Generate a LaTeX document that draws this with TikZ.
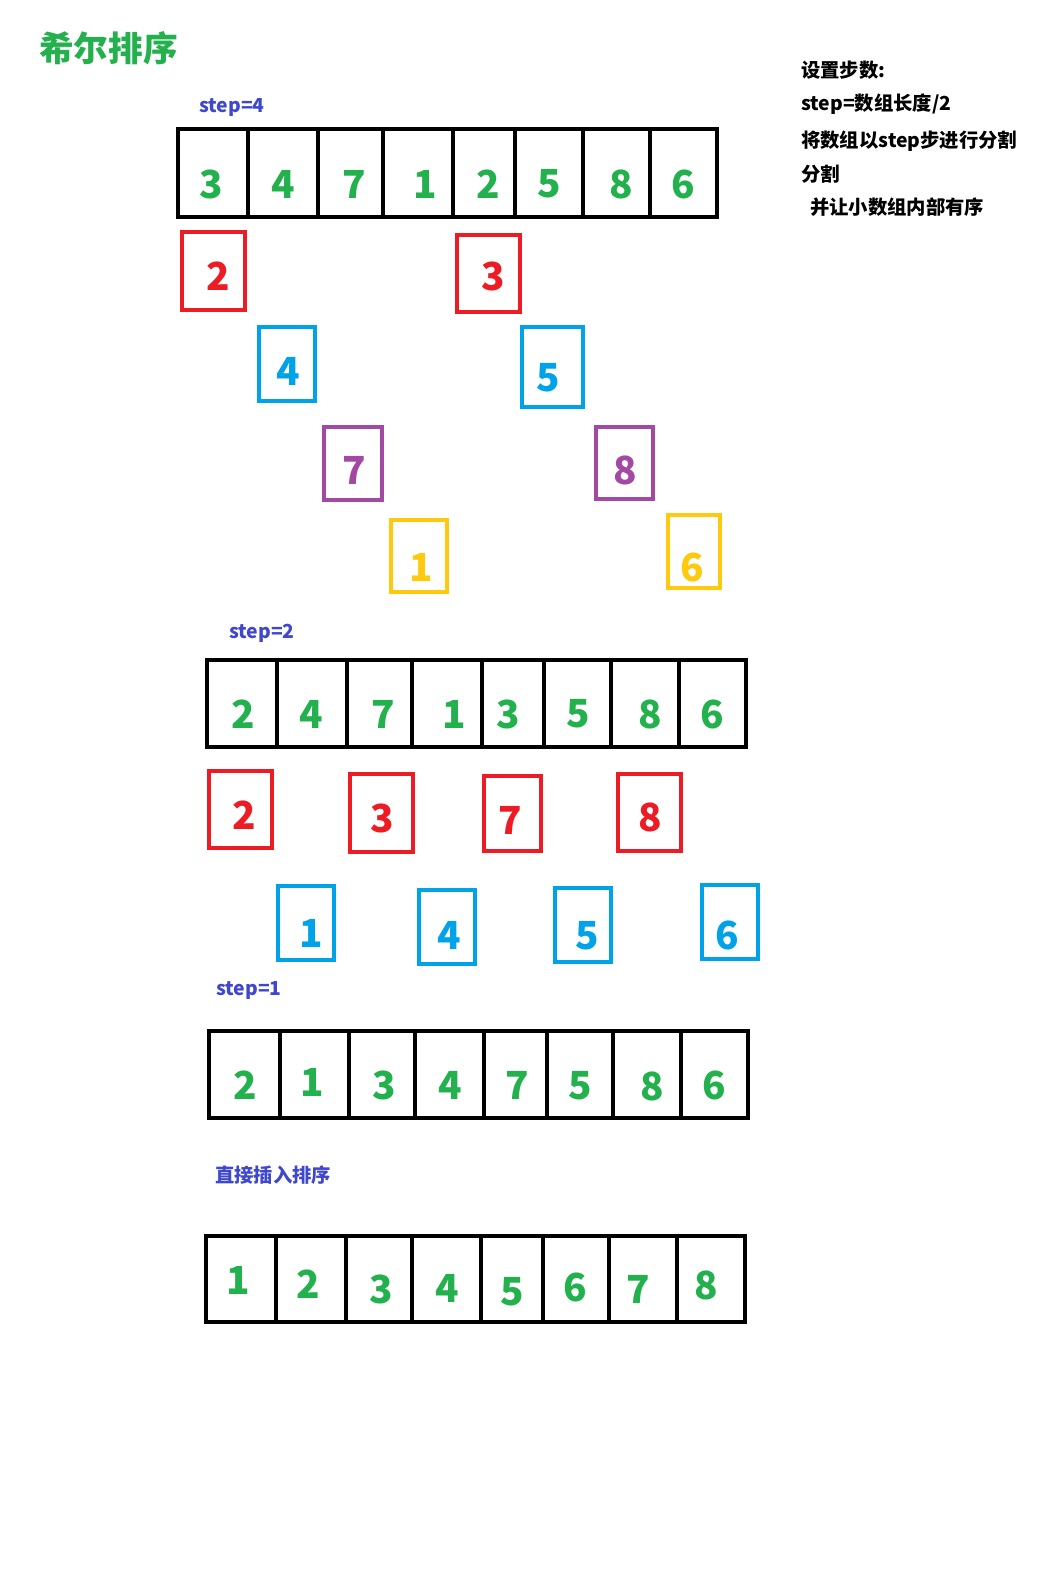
\documentclass[tikz,border=0pt]{standalone}
\usepackage{fontspec}
\setmainfont{Noto Sans CJK SC}
\definecolor{pgreen}{RGB}{34,177,76}
\definecolor{pred}{RGB}{237,28,36}
\definecolor{pblue}{RGB}{0,162,232}
\definecolor{ppurple}{RGB}{163,73,164}
\definecolor{pyellow}{RGB}{255,201,14}
\definecolor{pindigo}{RGB}{63,72,204}

\begin{document}
\begin{tikzpicture}[x=0.75pt,y=-0.75pt,
    cellbox/.style={line width=3pt},
    grpbox/.style={draw=#1,line width=2.3pt},
    num/.style={text=#1,inner sep=0pt,font=\fontsize{29}{29}\selectfont\bfseries},
    num/.default=pgreen,
    steplabel/.style={anchor=west,inner sep=0pt,text=pindigo,font=\fontsize{14.5}{14.5}\selectfont\bfseries},
    note/.style={anchor=west,inner sep=0pt,font=\fontsize{14.5}{14.5}\selectfont\bfseries}]
  \useasboundingbox (0,0) rectangle (1050,1576);

  % title and notes
  \node[anchor=west,inner sep=0pt,text=pgreen,font=\fontsize{26}{26}\selectfont\bfseries] (title) at (39,48) {希尔排序};
  \node[note] (n1) at (801,70) {设置步数:};
  \node[note] (n2) at (801,104) {step=数组长度/2};
  \node[note] (n3) at (801,141) {将数组以step步进行分割};
  \node[note] (n4) at (801,174) {分割};
  \node[note] (n5) at (810,207) {并让小数组内部有序};

  % step=4
  \node[steplabel] (s4) at (199,107) {step=4};
  \foreach \xa/\xb/\n/\nx [count=\i] in {178/248/3/211,248/318/4/283,318/383/7/354,383/453/1/425,
      453/515/2/488,515/583/5/549,583/650/8/621,650/717/6/683}{
    \draw[cellbox] (\xa,129) rectangle (\xb,217);
    \node[num] (a\i) at (\nx,184) {\n};
  }
  \foreach \xa/\ya/\xb/\yb/\c/\n/\nx/\ny [count=\i] in {
      182/232/245/310/pred/2/218/276, 457/235/520/312/pred/3/493/276,
      259/327/315/401/pblue/4/288/371, 522/327/583/407/pblue/5/548/378,
      324/427/382/500/ppurple/7/354/470, 596/427/653/499/ppurple/8/625/470,
      391/520/447/592/pyellow/1/421/567, 668/515/720/588/pyellow/6/692/567}{
    \draw[grpbox=\c] (\xa,\ya) rectangle (\xb,\yb);
    \node[num=\c] (g\i) at (\nx,\ny) {\n};
  }

  % step=2
  \node[steplabel] (s2) at (229,633) {step=2};
  \foreach \xa/\xb/\n/\nx [count=\i] in {207/277/2/243,277/347/4/311,347/412/7/383,412/482/1/454,
      482/544/3/508,544/611/5/578,611/679/8/650,679/746/6/712}{
    \draw[cellbox] (\xa,660) rectangle (\xb,747);
    \node[num] (b\i) at (\nx,714) {\n};
  }
  \foreach \xa/\ya/\xb/\yb/\c/\n/\nx/\ny [count=\i] in {
      209/771/272/848/pred/2/244/815, 350/774/413/852/pred/3/382/818,
      484/776/541/851/pred/7/510/820, 618/774/681/851/pred/8/650/817,
      278/886/334/960/pblue/1/311/933, 419/890/475/964/pblue/4/449/935,
      555/888/611/962/pblue/5/587/936, 702/885/758/959/pblue/6/727/935}{
    \draw[grpbox=\c] (\xa,\ya) rectangle (\xb,\yb);
    \node[num=\c] (h\i) at (\nx,\ny) {\n};
  }

  % step=1
  \node[steplabel] (s1) at (216,990) {step=1};
  \foreach \xa/\xb/\n/\nx/\ny [count=\i] in {209/280/2/245/1085,280/349/1/312/1082,349/415/3/384/1085,
      415/484/4/450/1085,484/547/7/517/1085,547/613/5/580/1086,613/681/8/652/1086,681/748/6/714/1085}{
    \draw[cellbox] (\xa,1031) rectangle (\xb,1118);
    \node[num] (c\i) at (\nx,\ny) {\n};
  }

  % insertion sort
  \node[steplabel] (ins) at (215,1175) {直接插入排序};
  \foreach \xa/\xb/\n/\nx/\ny [count=\i] in {206/276/1/238/1280,276/346/2/308/1284,346/412/3/381/1289,
      412/481/4/447/1288,481/543/5/512/1292,543/609/6/575/1287,609/677/7/638/1289,677/745/8/706/1285}{
    \draw[cellbox] (\xa,1236) rectangle (\xb,1322);
    \node[num] (d\i) at (\nx,\ny) {\n};
  }
\end{tikzpicture}
\end{document}
